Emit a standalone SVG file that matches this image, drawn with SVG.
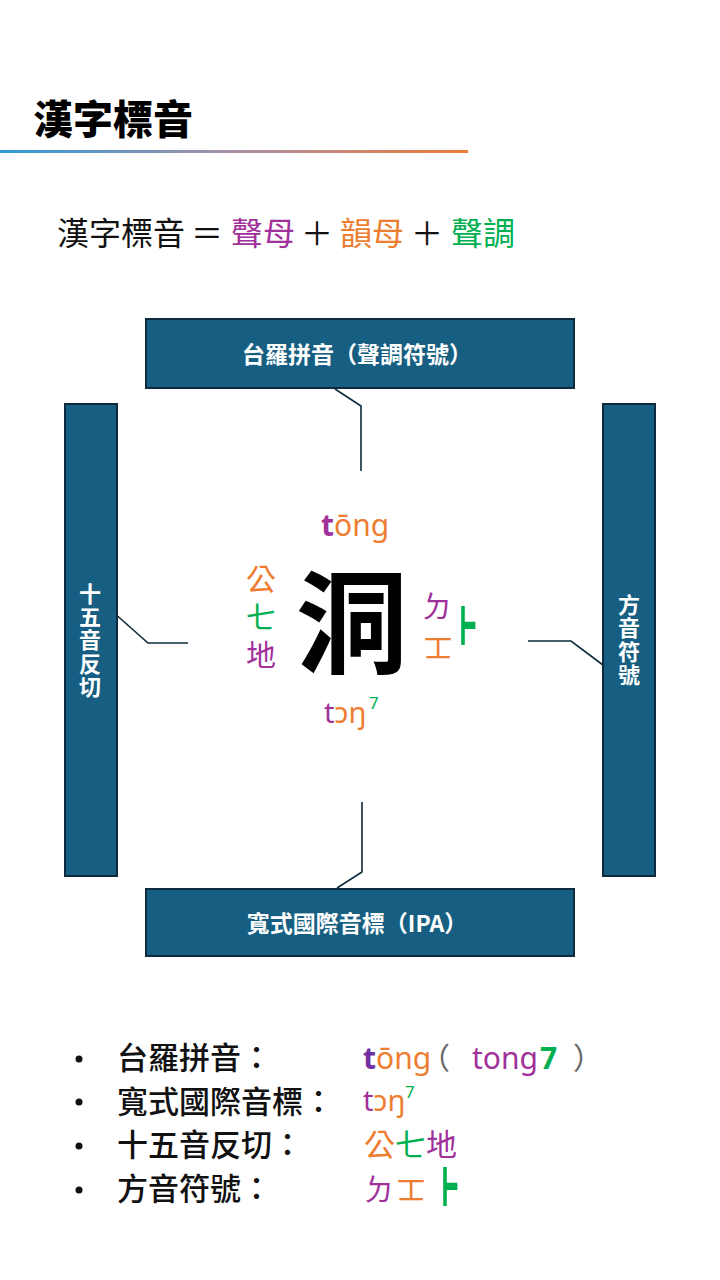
<svg xmlns="http://www.w3.org/2000/svg" width="720" height="1280" viewBox="0 0 720 1280">
<defs>
<linearGradient id="rule" x1="0" y1="0" x2="1" y2="0">
<stop offset="0" stop-color="#2E9BD8"/>
<stop offset="0.5" stop-color="#A98FA6"/>
<stop offset="1" stop-color="#EE7A37"/>
</linearGradient>
<style>
.cjk{font-family:"Noto Sans CJK TC","Noto Sans CJK SC",sans-serif;}
.lat{font-family:"Noto Sans","Noto Sans CJK TC",sans-serif;}
.tone{font-family:"Noto Sans",sans-serif;fill:#00B050;font-size:108px;}
.box{fill:#175F82;stroke:#0D2B3C;stroke-width:2;}
.bt{fill:#FFFFFF;font-size:23px;font-weight:700;text-anchor:middle;}
.vt{fill:#FFFFFF;font-size:22px;font-weight:700;text-anchor:middle;}
.pu{fill:#A0319A;}
.or{fill:#ED7D31;}
.gr{fill:#00B050;}
.bk{fill:#111111;}
.gy{fill:#666666;}
.conn{fill:none;stroke:#0D2B3C;stroke-width:1.6;}
</style>
</defs>
<rect width="720" height="1280" fill="#FFFFFF"/>

<g id="title">
<text class="cjk" x="33" y="134" font-size="40" font-weight="900" fill="#000000">漢字標音</text>
<rect x="0" y="150" width="468" height="3" fill="url(#rule)"/>
</g>

<g id="formula" class="cjk" font-size="32">
<text x="57" y="245" class="bk">漢字標音</text>
<text x="191" y="245" class="bk">＝</text>
<text x="231" y="245" class="pu">聲母</text>
<text x="301" y="245" class="bk">＋</text>
<text x="340" y="245" class="or">韻母</text>
<text x="411" y="245" class="bk">＋</text>
<text x="451" y="245" class="gr">聲調</text>
</g>

<g id="connectors">
<polyline class="conn" points="335,389 361,406 361,471"/>
<polyline class="conn" points="113,612 148,643 188,643"/>
<polyline class="conn" points="528,641 571,641 603,665"/>
<polyline class="conn" points="362,802 362,872 337,888"/>
</g>

<g id="node-tailo">
<rect class="box" x="146" y="319" width="428" height="69"/>
<text class="cjk bt" x="357" y="363">台羅拼音（聲調符號）</text>
</g>

<g id="node-ipa">
<rect class="box" x="146" y="889" width="428" height="67"/>
<text class="cjk bt" x="357" y="932">寬式國際音標（IPA）</text>
</g>

<g id="node-fanqie">
<rect class="box" x="65" y="404" width="52" height="472"/>
<text class="cjk vt" x="90" y="602">十</text>
<text class="cjk vt" x="90" y="625">五</text>
<text class="cjk vt" x="90" y="648">音</text>
<text class="cjk vt" x="90" y="672">反</text>
<text class="cjk vt" x="90" y="695">切</text>
</g>

<g id="node-fangyin">
<rect class="box" x="603" y="404" width="52" height="472"/>
<text class="cjk vt" x="629" y="613">方</text>
<text class="cjk vt" x="629" y="636">音</text>
<text class="cjk vt" x="629" y="660">符</text>
<text class="cjk vt" x="629" y="683">號</text>
</g>

<g id="center">
<text class="cjk" x="352" y="665" font-size="112" font-weight="700" text-anchor="middle" fill="#000000">洞</text>
<text class="lat" x="321" y="536" font-size="30"><tspan class="pu" font-weight="700">t</tspan><tspan class="or">ōng</tspan></text>
<text class="cjk or" x="261" y="590" font-size="30" text-anchor="middle">公</text>
<text class="cjk gr" x="261" y="628" font-size="30" text-anchor="middle">七</text>
<text class="cjk pu" x="261" y="666" font-size="30" text-anchor="middle">地</text>
<text class="cjk pu" x="437" y="617" font-size="30" text-anchor="middle">ㄉ</text>
<text class="cjk or" x="438" y="658" font-size="30" text-anchor="middle">ㆲ</text>
<text class="tone" x="0" y="0" transform="translate(457,663) scale(0.5,1)">˫</text>
<text class="lat" x="324" y="723" font-size="29"><tspan class="pu">t</tspan><tspan class="or">ɔŋ</tspan></text>
<text class="lat gr" x="369" y="709" font-size="17">7</text>
</g>

<g id="list">
<g class="cjk bk" font-size="31" font-weight="500">
<circle cx="79" cy="1059" r="3.5" fill="#111111"/>
<circle cx="79" cy="1102" r="3.5" fill="#111111"/>
<circle cx="79" cy="1146" r="3.5" fill="#111111"/>
<circle cx="79" cy="1190" r="3.5" fill="#111111"/>
<text x="117" y="1069">台羅拼音：</text>
<text x="117" y="1113">寬式國際音標：</text>
<text x="117" y="1156">十五音反切：</text>
<text x="117" y="1200">方音符號：</text>
</g>
<text class="lat" x="363" y="1069" font-size="30"><tspan fill="#7030A0" font-weight="700">t</tspan><tspan class="or">ōng</tspan></text>
<text class="cjk gy" x="420" y="1069" font-size="30">（</text>
<text class="lat pu" x="472" y="1069" font-size="30">tong</text>
<text class="lat gr" x="540" y="1069" font-size="30" font-weight="700">7</text>
<text class="cjk gy" x="573" y="1069" font-size="30">）</text>
<text class="lat" x="363" y="1111" font-size="29"><tspan class="pu">t</tspan><tspan class="or">ɔŋ</tspan></text>
<text class="lat gr" x="405" y="1098" font-size="17">7</text>
<text class="cjk" x="364" y="1156" font-size="31"><tspan class="or">公</tspan><tspan class="gr">七</tspan><tspan class="pu">地</tspan></text>
<text class="cjk pu" x="364" y="1200" font-size="30">ㄉ</text>
<text class="cjk or" x="396" y="1200" font-size="30">ㆲ</text>
<text class="tone" x="0" y="0" transform="translate(439,1224) scale(0.5,1)">˫</text>
</g>
</svg>
